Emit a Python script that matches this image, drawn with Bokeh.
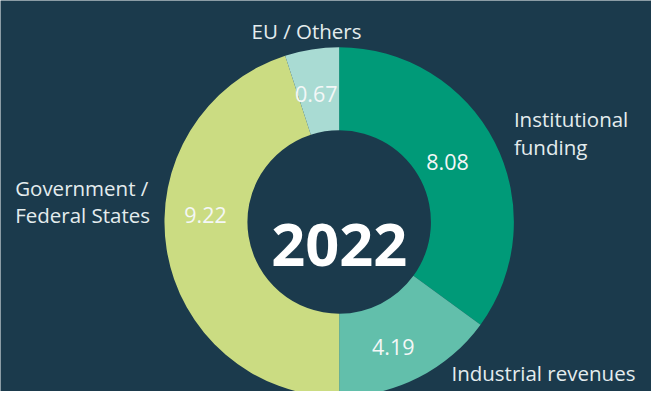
import numpy as np
from bokeh.plotting import figure
from bokeh.models import ColumnDataSource
from bokeh.embed import file_html
from bokeh.resources import INLINE
from bokeh.core.properties import value

# ---- data ----
categories = ["Institutional funding", "Industrial revenues", "Government / Federal States", "EU / Others"]
amounts = [8.08, 4.19, 9.22, 0.67]
shares = [35, 15, 45, 5]          # angular share of each slice as drawn (%)
colors = ["#009a78", "#62bfab", "#cbdc82", "#a9dbd3"]
year = "2022"

BG = "#1b3a4c"
FONT = "Open Sans"
W, H = 651, 391          # figure size in screen pixels
RW, RH = 667, 407        # reference coordinate space (data units)
S = W / RW

def fx(x):
    return x

def fy(y):
    return RH - y

p = figure(width=W, height=H, x_range=(0, RW), y_range=(0, RH),
           output_backend="svg", toolbar_location=None, min_border=0)
p.axis.visible = False
p.grid.visible = False
p.outline_line_color = None
p.background_fill_color = BG
p.border_fill_color = BG

cx, cy = fx(347), fy(230.5)
r_out, r_in = 179, 94

frac = np.array(shares, dtype=float) / np.sum(shares)
cum = np.concatenate([[0], np.cumsum(frac)])
start = np.pi / 2 - cum[:-1] * 2 * np.pi
end = np.pi / 2 - cum[1:] * 2 * np.pi

src = ColumnDataSource(dict(x=[cx] * len(categories), y=[cy] * len(categories),
                            start=start, end=end, color=colors, cat=categories))
p.annular_wedge(x="x", y="y", inner_radius=r_in, outer_radius=r_out,
                start_angle="start", end_angle="end", direction="clock",
                fill_color="color", line_color=None, source=src)

def fs(px):
    return f"{px * S:.1f}px"

# value labels (layout positions, reference pixel coords: center x, baseline y)
val_pos = [(458, 168), (402.5, 361), (210, 223), (323.5, 97)]
vsrc = ColumnDataSource(dict(
    x=[fx(a) for a, b in val_pos], y=[fy(b) for a, b in val_pos],
    t=[f"{v:.2f}" for v in amounts]))
p.text(x="x", y="y", text="t", source=vsrc, text_align="center",
       text_baseline="alphabetic", text_color="#f4f7f7",
       text_font=value(FONT), text_font_size=fs(22))

# category labels, split into lines (x, baseline y, align)
cat_lines = [
    ("Institutional", 526, 123, "left"),
    ("funding", 526, 152, "left"),
    ("Industrial revenues", 462, 388, "left"),
    ("Government /", 15, 195, "left"),
    ("Federal States", 15, 223, "left"),
    ("EU / Others", 313.5, 32, "center"),
]
for t, x, y, al in cat_lines:
    p.text(x=[fx(x)], y=[fy(y)], text=[t], text_align=al,
           text_baseline="alphabetic", text_color="#e4ecee",
           text_font=value(FONT), text_font_size=fs(21))

p.text(x=[cx], y=[fy(254)], text=[year], text_align="center",
       text_baseline="alphabetic", text_color="#ffffff",
       text_font=value(FONT), text_font_style="bold", text_font_size=fs(61))

open("out.html", "w").write(file_html(p, INLINE))
